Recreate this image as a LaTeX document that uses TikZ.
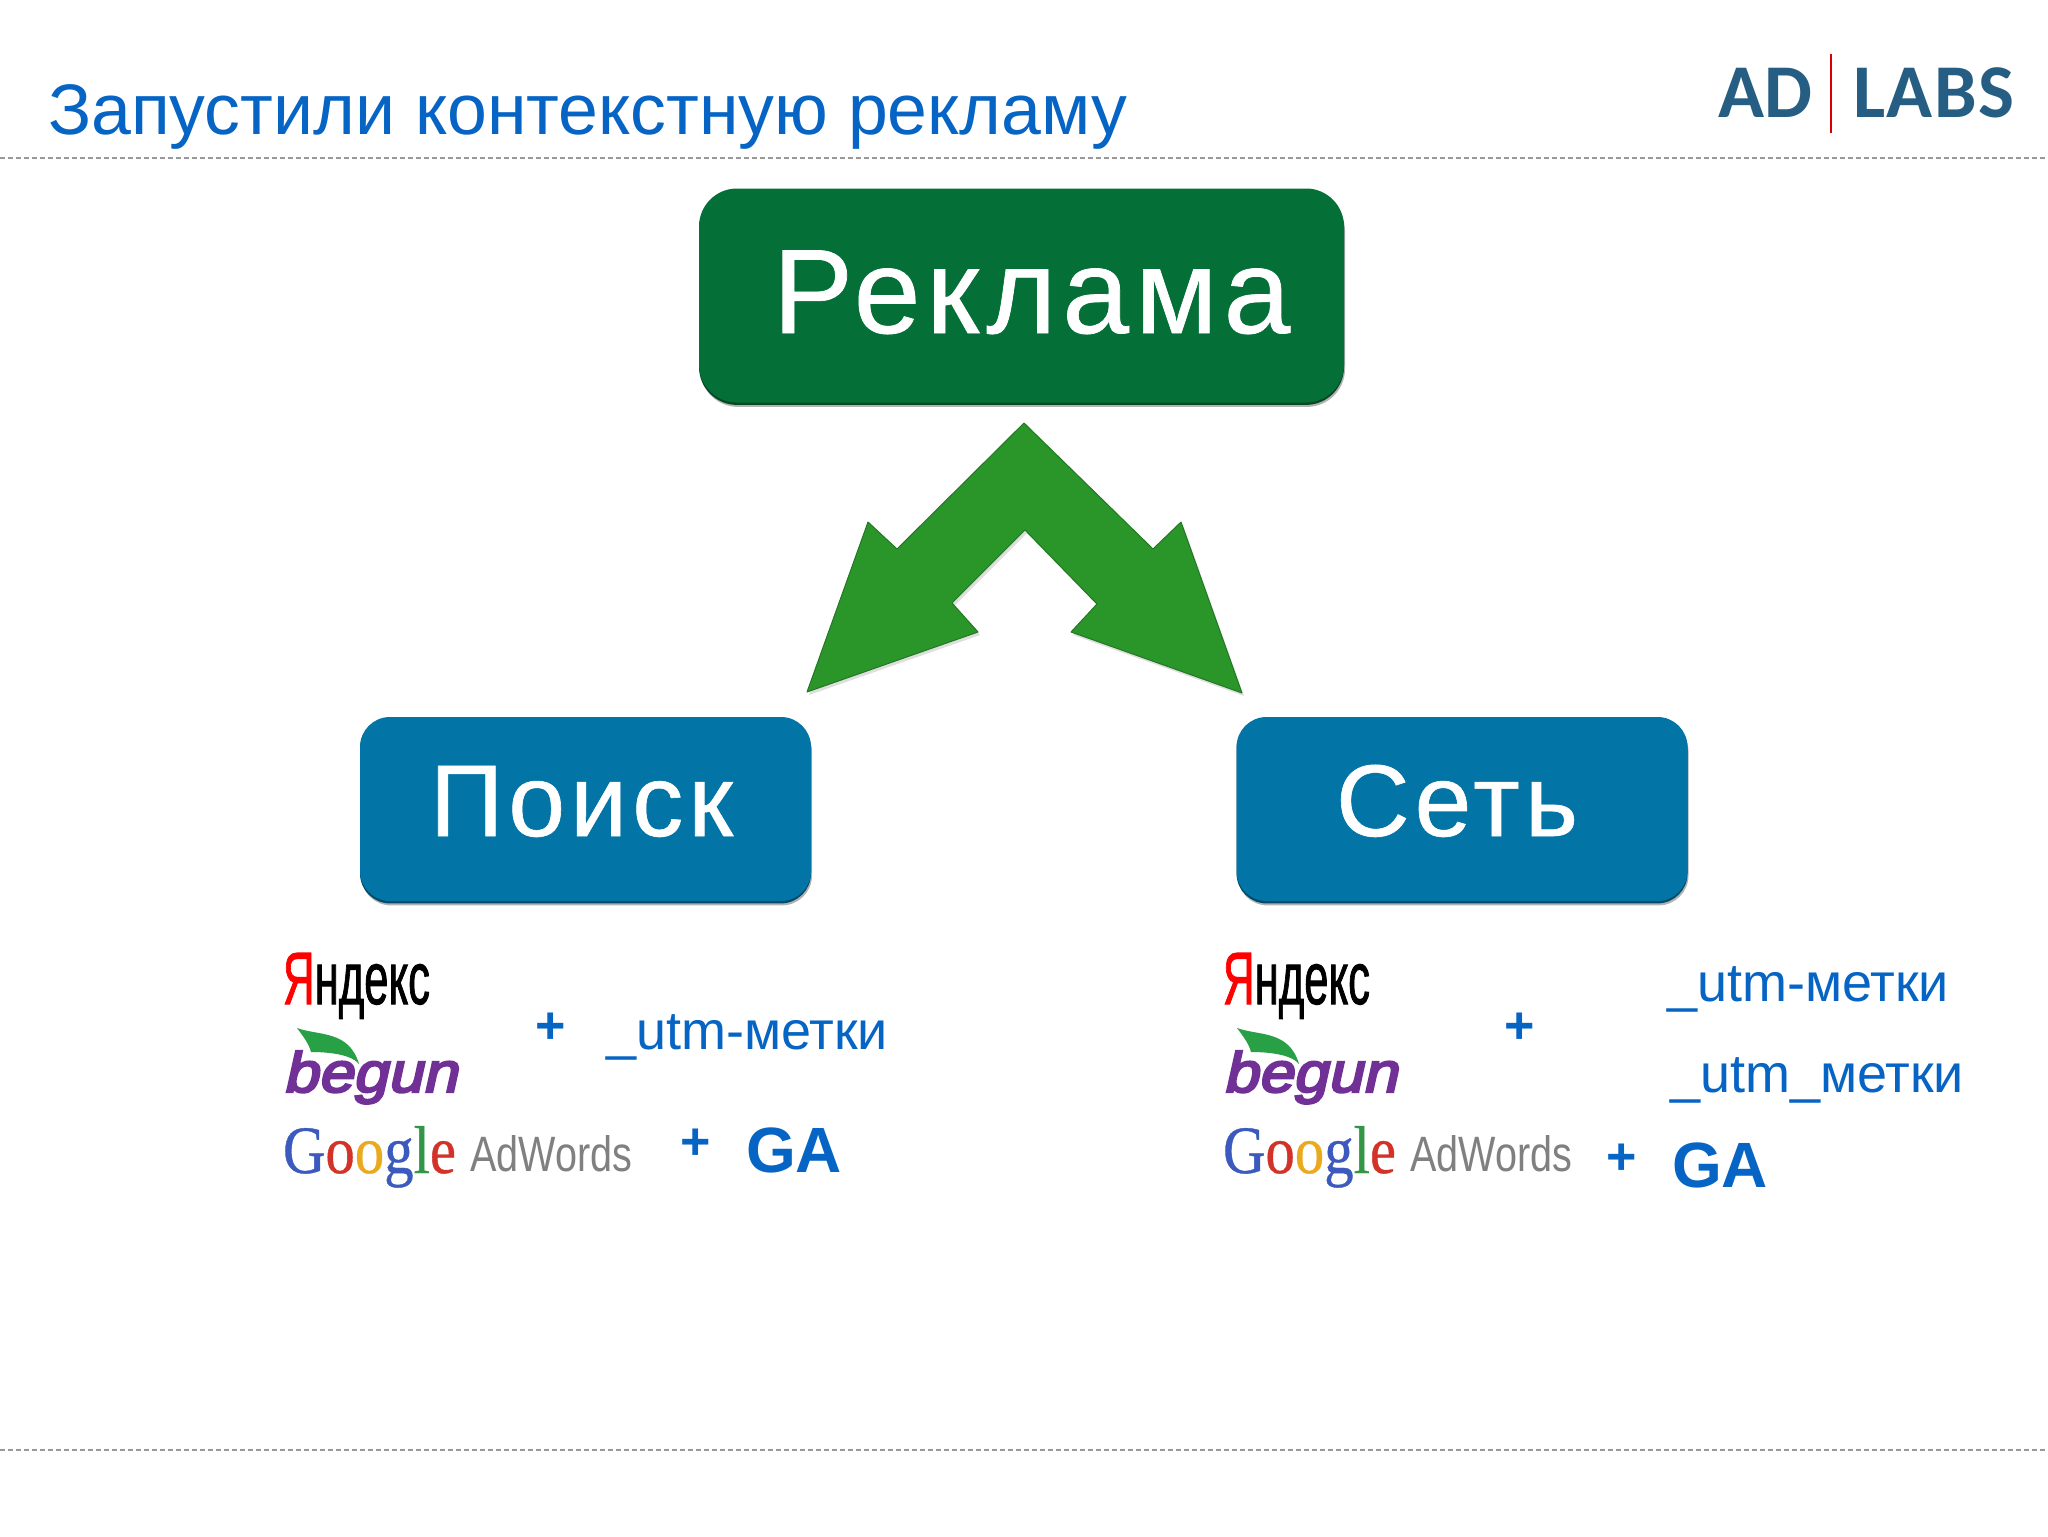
\documentclass[tikz,border=0pt]{standalone}
\usepackage{fontspec}
\setmainfont{Liberation Sans}
\newfontfamily\boxfont[LetterSpace=5,FakeBold=0.6]{Liberation Sans}
\newfontfamily\logofont{Carlito}
\newfontfamily\labsfont[LetterSpace=2]{Carlito}
\newfontfamily\gofont[FakeBold=0.6]{Liberation Serif}
\newfontfamily\begfont[FakeBold=4,FakeSlant=0.2]{Liberation Sans}
\newfontfamily\yafont[FakeBold=1.5]{Liberation Sans}
\usetikzlibrary{shadows}
\definecolor{ttl}{RGB}{5,100,196}
\definecolor{boxgreen}{RGB}{4,112,56}
\definecolor{boxblue}{RGB}{2,116,166}
\definecolor{arrowgreen}{RGB}{42,150,42}
\definecolor{logoblue}{RGB}{37,94,130}
\definecolor{beg}{RGB}{112,48,150}
\definecolor{gblue}{RGB}{60,90,190}
\definecolor{gred}{RGB}{210,50,40}
\definecolor{gyel}{RGB}{235,170,30}
\definecolor{ggreen}{RGB}{50,150,70}
\definecolor{leaf}{RGB}{40,160,70}
\tikzset{
  x=0.5pt,y=-0.5pt,
  txt/.style={anchor=base west,inner sep=0pt,outer sep=0pt},
  rbox/.style={draw=none,inner sep=0pt,
    general shadow={shadow xshift=0.5pt,shadow yshift=-2.2pt,fill=black!50,opacity=.6},
    general shadow={shadow yshift=-1.2pt,fill=#1!65!black}},
  dashline/.style={draw=black!40,line width=0.55pt,dash pattern=on 2.5pt off 1.5pt},
  blue/.style={txt,text=ttl},
  whitelabel/.style={txt,text=white,font=\boxfont\fontsize{60}{60}\selectfont},
  whitesmall/.style={txt,text=white,font=\boxfont\fontsize{51}{51}\selectfont}
}
\newcommand{\logostack}[2]{%
  \node[txt] (#1ya) at (#2,1004) {\resizebox{73.5pt}{25.5pt}{\yafont\textcolor{red}{Я}\textcolor{black}{ндекс}}};
  \fill[leaf] ({#2+14},1028) .. controls ({#2+36},1036) and ({#2+66},1030) .. ({#2+76},1064)
     .. controls ({#2+68},1054) and ({#2+44},1052) .. ({#2+28},1052) .. controls ({#2+26},1044) and ({#2+20},1036) .. ({#2+14},1028) -- cycle;
  \node[txt,text=beg] (#1be) at (#2,1092) {\resizebox{87pt}{20.5pt}{\begfont begun}};
  \node[txt] (#1go) at (#2,1173) {\resizebox{86.5pt}{23.5pt}{\gofont\textcolor{gblue}{G}\textcolor{gred}{o}\textcolor{gyel}{o}\textcolor{gblue}{g}\textcolor{ggreen}{l}\textcolor{gred}{e}}};
  \node[txt,text=black!50] (#1ad) at ({#2+187},1171) {\resizebox{81pt}{18pt}{AdWords}};
}
\begin{document}
\begin{tikzpicture}
\useasboundingbox[fill=white] (0,0) rectangle (2048,1536);
% title and rules
\node[blue,font=\fontsize{35.8}{36}\selectfont] (title) at (48,134) {Запустили контекстную рекламу};
\coordinate (r1a) at (0,158); \coordinate (r1b) at (2048,158);
\coordinate (r2a) at (0,1450); \coordinate (r2b) at (2048,1450);
\draw[dashline] (r1a) -- (r1b);
\draw[dashline] (r2a) -- (r2b);
% logo
\node[txt,text=logoblue,font=\logofont\bfseries\fontsize{38}{38}\selectfont] (ad) at (1718,118) {AD};
\node[txt,text=logoblue,font=\labsfont\bfseries\fontsize{38}{38}\selectfont] (labs) at (1853,118) {LABS};
\coordinate (bar1) at (1831,54); \coordinate (bar2) at (1831,133);
\draw[red!85!black,line width=1.2pt] (bar1) -- (bar2);
% boxes
\node[rbox=boxgreen,fill=boxgreen,rounded corners=19pt,minimum width=322.5pt,minimum height=107pt] (reklama) at (1021.5,295.5) {};
\node[rbox=boxblue,fill=boxblue,rounded corners=15pt,minimum width=225.5pt,minimum height=92pt] (poisk) at (585.5,809) {};
\node[rbox=boxblue,fill=boxblue,rounded corners=15pt,minimum width=225.5pt,minimum height=92pt] (set) at (1462,809) {};
\node[whitelabel] (reklamat) at (773,333) {Реклама};
\node[whitesmall] (poiskt) at (430,836) {Поиск};
\node[whitesmall] (sett) at (1336,836) {Сеть};
% double arrow
\fill[black!25,opacity=.5,shift={(2,3)}] (1024,423) -- (1153,549) -- (1181,522) -- (1242,693) -- (1071,632) -- (1097,604) -- (1025,530) -- (952,603) -- (978,632) -- (807,692) -- (868,522) -- (897,549) -- cycle;
\filldraw[fill=arrowgreen,draw=arrowgreen!80!black,line width=.5pt,line join=round] (1024,423) -- (1153,549) -- (1181,522) -- (1242,693) -- (1071,632) -- (1097,604) -- (1025,530) -- (952,603) -- (978,632) -- (807,692) -- (868,522) -- (897,549) -- cycle;
% logos
\logostack{l}{283}
\logostack{r}{1223}
% left column
\node[blue,font=\bfseries\fontsize{26}{26}\selectfont,anchor=center] (p1) at (551,1028) {+};
\node[blue,font=\fontsize{27}{27}\selectfont] (u1) at (606,1049) {\_utm-метки};
\node[blue,font=\bfseries\fontsize{26}{26}\selectfont,anchor=center] (p2) at (696,1144) {+};
\node[blue,font=\bfseries\fontsize{32}{32}\selectfont] (ga1) at (746,1172) {GA};
% right column
\node[blue,font=\bfseries\fontsize{26}{26}\selectfont,anchor=center] (p3) at (1520,1028) {+};
\node[blue,font=\fontsize{27}{27}\selectfont] (u2) at (1667,1001) {\_utm-метки};
\node[blue,font=\fontsize{27}{27}\selectfont] (u3) at (1670,1092) {\_utm\_метки};
\node[blue,font=\bfseries\fontsize{26}{26}\selectfont,anchor=center] (p4) at (1622,1159) {+};
\node[blue,font=\bfseries\fontsize{32}{32}\selectfont] (ga2) at (1672,1187) {GA};
\end{tikzpicture}
\end{document}
